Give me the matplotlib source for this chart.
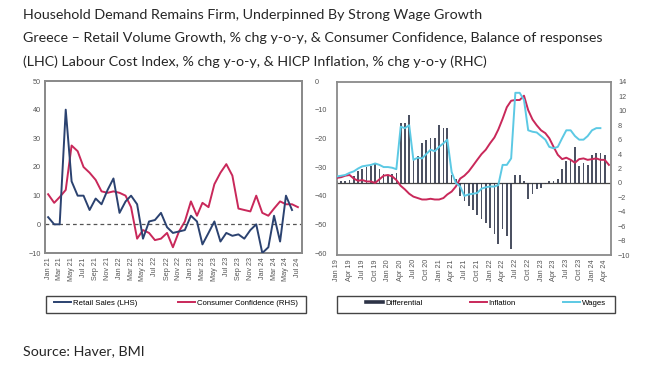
import numpy as np
import pandas as pd
import matplotlib
matplotlib.use("Agg")
import matplotlib.pyplot as plt
import matplotlib.dates as mdates
from matplotlib.patches import Rectangle

# left chart: monthly, Jan 21 onwards
retail = [2.5, 0, 0, 40, 15, 10, 10, 5, 9, 7, 12, 16, 4, 8, 10, 7, -5, 1, 1.5, 4,
          -1, -3, -2.5, -2, 3, 1, -7, -3, 1, -6, -3, -4, -3.5, -5, -2, 0, -10, -8, 3, -6,
          10, 5]
confidence = [-39.5, -42.5, -40.5, -38, -22.5, -24.5, -30, -32, -34.5, -38.5, -39, -38.5,
              -39, -40, -44, -55, -52, -53, -55.5, -55, -53, -58, -52.5, -49, -42, -47,
              -42.5, -44, -36, -32, -29, -33, -44.5, -45, -45.5, -40, -46, -47, -44.5, -42,
              -43, -43, -44]

# right chart: monthly, Jan 19 onwards
inflation = [0.7, 0.8, 1.0, 1.1, 0.6, 0.3, 0.4, 0.2, 0.2, 0.0, 0.5, 1.0, 1.1, 0.9, 0.4,
             -0.4, -0.9, -1.5, -1.9, -2.1, -2.3, -2.3, -2.2, -2.3, -2.3, -2.1, -1.6, -1.2,
             -0.5, 0.6, 1.0, 1.6, 2.4, 3.2, 4.0, 4.6, 5.5, 6.3, 7.4, 8.9, 10.5, 11.4, 11.5,
             11.5, 12.1, 10.1, 8.8, 8.0, 7.3, 6.9, 6.2, 5.0, 3.9, 3.3, 3.5, 3.2, 2.8, 3.3,
             3.4, 3.2, 3.3, 3.4, 3.2, 3.2, 2.5]
wages = [0.9, 1.0, 1.1, 1.4, 1.6, 2.0, 2.3, 2.4, 2.5, 2.7, 2.5, 2.2, 2.2, 2.1, 1.9, 7.8,
         7.6, 8.0, 3.2, 3.5, 3.4, 4.0, 4.6, 4.4, 5.0, 5.5, 6.0, 1.5, 0.0, -0.5, -1.8, -1.6,
         -1.5, -1.4, -0.8, -0.6, -0.5, -0.5, -0.3, 2.5, 2.5, 3.4, 12.5, 12.5, 11.5, 7.3,
         7.1, 7.0, 6.5, 6.0, 5.0, 4.8, 5.0, 6.2, 7.3, 7.3, 6.5, 6.0, 6.0, 6.5, 7.3, 7.6, 7.6]
differential = [0.3, 0.3, 0.2, 0.4, 1.0, 1.6, 2.0, 2.2, 2.4, 2.7, 2.0, 1.2, 1.1, 1.2, 1.4,
                8.3, 8.3, 9.4, 3.4, 3.7, 5.5, 6.0, 6.2, 6.2, 8.0, 7.6, 7.6, 1.1, 0.5, -1.8,
                -2.5, -3.2, -3.7, -4.4, -5.0, -5.5, -6.2, -7.1, -8.5, -6.4, -7.3, -9.2, 1.1,
                1.1, 0.3, -2.3, -1.6, -0.9, -0.7, -0.2, 0.3, 0.2, 0.5, 2.0, 3.0, 3.3, 5.0,
                2.3, 2.7, 2.5, 3.9, 4.2, 4.1, 3.9]

titles = ["Household Demand Remains Firm, Underpinned By Strong Wage Growth",
          "Greece \u2013 Retail Volume Growth, % chg y-o-y, & Consumer Confidence, Balance of responses",
          "(LHC) Labour Cost Index, % chg y-o-y, & HICP Inflation, % chg y-o-y (RHC)"]

navy = "#2b4270"
crimson = "#c9285a"
cyan = "#5cc9e4"
bar_col = "#2d3346"
frame = "#8a8a8a"
tick_col = "#555555"
chart_font = "Liberation Sans"

fig = plt.figure(figsize=(6.5, 3.69), dpi=100)

for i, t in enumerate(titles):
    fig.text(0.035, 1 - (15 + 23.5 * i) / 369, t, fontsize=10.3, family="Lato",
             color="#262626", va="center")
fig.text(0.035, 1 - 351 / 369, "Source: Haver, BMI", fontsize=10.3, family="Lato",
         color="#262626", va="center")


def style_axes(ax):
    for s in ax.spines.values():
        s.set_color(frame)
        s.set_linewidth(1.3)
    ax.tick_params(length=0, labelsize=5.2, colors=tick_col, pad=3)
    for lab in ax.get_xticklabels() + ax.get_yticklabels():
        lab.set_family(chart_font)


def legend_box(x0, y0, w, hgt):
    fig.patches.append(Rectangle((x0 / 650, 1 - y0 / 369), w / 650, -hgt / 369,
                                 transform=fig.transFigure, fill=False,
                                 edgecolor="#444444", lw=1.0))


# ---- left chart
d1 = pd.date_range("2021-01-01", periods=len(confidence), freq="MS")
ax1 = fig.add_axes([45 / 650, 1 - 253 / 369, 257 / 650, 172 / 369])
ax1b = ax1.twinx()
l1, = ax1.plot(d1[:len(retail)], retail, color=navy, lw=1.4, zorder=3)
l2, = ax1b.plot(d1, confidence, color=crimson, lw=1.4)
ax1.axhline(0, color="#555555", lw=0.9, ls=(0, (3, 2.5)), zorder=1)
ax1.set_ylim(-10, 50)
ax1b.set_ylim(-60, 0)
ax1.set_yticks(range(-10, 51, 10))
ax1b.set_yticks(range(-60, 1, 10))
ax1.set_xlim(pd.Timestamp("2020-12-16"), pd.Timestamp("2024-07-22"))
ax1.xaxis.set_major_locator(mdates.MonthLocator(bymonth=[1, 3, 5, 7, 9, 11]))
ax1.xaxis.set_major_formatter(mdates.DateFormatter("%b %y"))
ax1.tick_params(axis="x", rotation=90)
ax1.set_zorder(ax1b.get_zorder() + 1)
ax1.patch.set_visible(False)
style_axes(ax1)
style_axes(ax1b)
ax1b.tick_params(axis="y", pad=9)

legend_box(46, 296, 260, 17)
fig.legend([l1, l2], ["Retail Sales (LHS)", "Consumer Confidence (RHS)"],
           loc="lower left", bbox_to_anchor=(48 / 650, 1 - 313 / 369, 256 / 650, 17 / 369),
           mode="expand", ncol=2, frameon=False,
           handlelength=2.2, handletextpad=0.2, borderpad=0.3, columnspacing=0.5,
           prop={"family": chart_font, "size": 5.6})

# ---- right chart
d2 = pd.date_range("2019-01-01", periods=len(inflation), freq="MS")
ax2 = fig.add_axes([337 / 650, 1 - 255 / 369, 274 / 650, 173 / 369])
ax2.bar(d2[:len(differential)], differential, width=12, color=bar_col, alpha=0.85,
        zorder=2)
l3, = ax2.plot(d2, inflation, color=crimson, lw=1.4, zorder=3)
l4, = ax2.plot(d2[:len(wages)], wages, color=cyan, lw=1.4, zorder=4)
ax2.axhline(0, color="#444444", lw=0.9, zorder=1)
ax2.set_ylim(-10, 14)
ax2.set_yticks(range(-10, 15, 2))
ax2.yaxis.tick_right()
ax2.set_xlim(pd.Timestamp("2019-01-01"), pd.Timestamp("2024-05-16"))
ax2.xaxis.set_major_locator(mdates.MonthLocator(bymonth=[1, 4, 7, 10]))
ax2.xaxis.set_major_formatter(mdates.DateFormatter("%b %y"))
ax2.tick_params(axis="x", rotation=90)
style_axes(ax2)
ax2.tick_params(axis="y", pad=5)

legend_box(337, 296, 278, 17)
leg2 = fig.legend([l4, l3, l4], ["Differential", "Inflation", "Wages"],
                  loc="lower left", bbox_to_anchor=(360 / 650, 1 - 313 / 369, 252 / 650, 17 / 369),
                  mode="expand", ncol=3, frameon=False,
                  handlelength=2.2, handletextpad=0.2, borderpad=0.3,
                  prop={"family": chart_font, "size": 5.6})
h = leg2.legend_handles
h[0].set_color(bar_col)
h[0].set_linewidth(2.6)

fig.savefig("out.png", dpi=100)
